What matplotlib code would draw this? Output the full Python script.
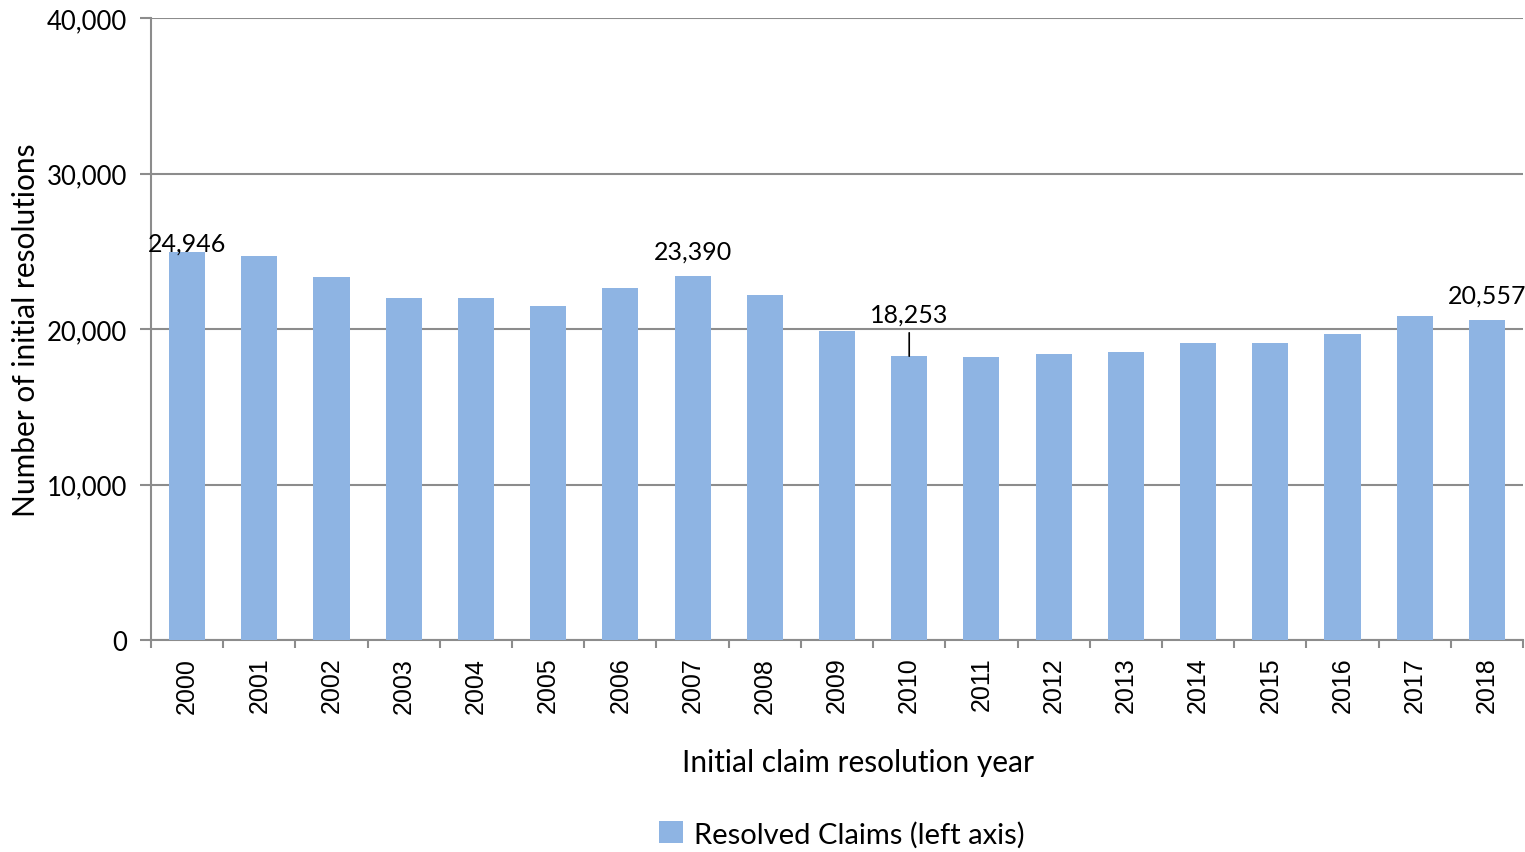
import numpy as np
import matplotlib.pyplot as plt
from matplotlib.ticker import FuncFormatter, FixedLocator

years = [str(y) for y in range(2000, 2019)]
resolved = [24946, 24700, 23350, 22000, 22000, 21500, 22650, 23390, 22200, 19900,
            18253, 18200, 18400, 18500, 19100, 19100, 19700, 20850, 20557]
# labelled bars and how far above the bar the label sits
labelled = {"2000": (24946, -150), "2007": (23390, 900), "2010": (18253, 1950), "2018": (20557, 900)}

bar_color = "#8EB4E3"
grid_color = "#8C8C8C"
title_font = ["Lato", "DejaVu Sans"]
tick_font = ["Liberation Sans", "DejaVu Sans"]

fig = plt.figure(figsize=(15.25, 8.53), dpi=100)
ax = fig.add_axes([151 / 1525, 1 - 641 / 853, (1523 - 151) / 1525, (641 - 19) / 853])

x = np.arange(len(years))
ax.bar(x, resolved, width=0.5, color=bar_color, label="Resolved Claims (left axis)", zorder=3)

ax.set_xlim(-0.5, len(years) - 0.5)
ax.set_ylim(0, 40000)
ax.yaxis.set_major_locator(FixedLocator([0, 10000, 20000, 30000, 40000]))
ax.yaxis.set_major_formatter(FuncFormatter(lambda v, p: f"{int(v):,}"))
ax.grid(axis="y", color=grid_color, linewidth=1.5, zorder=0)

ax.set_xticks(x)
ax.set_xticklabels(years, rotation=90, fontsize=18, family=tick_font)
ax.tick_params(axis="x", length=0, pad=12)
ax.set_xticks(np.arange(-0.5, len(years)), minor=True)
ax.tick_params(axis="x", which="minor", length=6, width=1.5, color=grid_color)
ax.tick_params(axis="y", length=8, width=1.5, color=grid_color, labelsize=18.5, pad=9)
for t in ax.get_yticklabels():
    t.set_family(title_font)

for s in ["top", "right"]:
    ax.spines[s].set_visible(False)
for s in ["left", "bottom"]:
    ax.spines[s].set_color(grid_color)
    ax.spines[s].set_linewidth(1.5)

for i, yr in enumerate(years):
    if yr in labelled:
        v, off = labelled[yr]
        if yr == "2010":
            ax.annotate(f"{v:,}", xy=(i, v), xytext=(i, v + off), ha="center", va="bottom",
                        fontsize=18, family=title_font,
                        arrowprops=dict(arrowstyle="-", color="black", lw=1.2, shrinkA=3, shrinkB=0))
        else:
            ax.text(i, v + off, f"{v:,}", ha="center", va="bottom", fontsize=18, family=title_font)

ax.set_xlabel("Initial claim resolution year", fontsize=21.5, family=title_font)
ax.xaxis.set_label_coords((858 - 151) / (1523 - 151), -(763 - 641) / (641 - 19))
ax.xaxis.label.set_va("center")
ax.set_ylabel("Number of initial resolutions", fontsize=21.5, family=title_font)
ax.yaxis.set_label_coords(-(151 - 26) / (1523 - 151), 0.5)
ax.yaxis.label.set_va("center")

fig.legend(loc="center", bbox_to_anchor=(842 / 1525, 1 - 835 / 853), frameon=False,
           prop={"family": title_font, "size": 21}, handlelength=0.8, handleheight=0.8,
           handletextpad=0.4)

fig.savefig("out.png", dpi=100)
